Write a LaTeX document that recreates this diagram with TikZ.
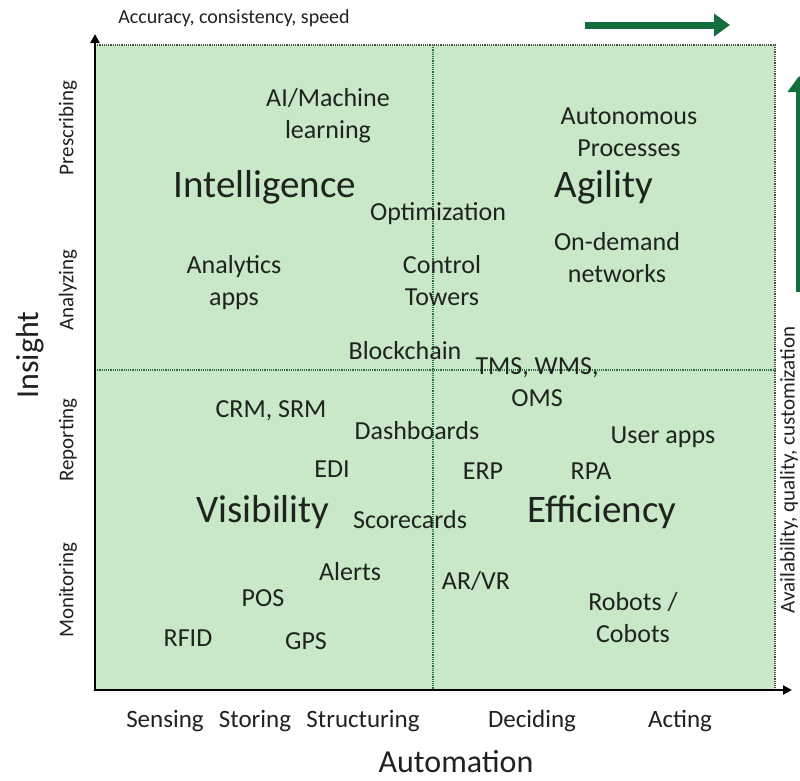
\documentclass[tikz,border=0pt]{standalone}
\usepackage{fontspec}
\setmainfont{Carlito}
\usetikzlibrary{arrows.meta}
\definecolor{boxgreen}{RGB}{200,232,200}
\definecolor{arrowgreen}{RGB}{18,110,60}
\definecolor{dotgreen}{RGB}{40,110,70}
\definecolor{txt}{RGB}{30,35,30}
\tikzset{
  item/.style={text=txt,font=\fontsize{26}{32}\selectfont,align=center,inner sep=0pt},
  title/.style={text=txt,font=\fontsize{39}{46}\selectfont,inner sep=0pt},
  axlab/.style={text=txt,font=\fontsize{25}{30}\selectfont,inner sep=0pt},
  sidelab/.style={text=txt,font=\fontsize{21}{25}\selectfont,inner sep=0pt,rotate=90},
  bigaxis/.style={text=txt,font=\fontsize{32}{38}\selectfont,inner sep=0pt},
  divider/.style={dotgreen,densely dotted,line width=1.2pt},
  axisline/.style={black,line width=2.6pt},
  greenarrow/.style={arrowgreen,line width=7pt,-{Triangle[length=16pt,width=22pt]}}
}
\begin{document}
\begin{tikzpicture}[x=1pt,y=-1pt]
\useasboundingbox (0,0) rectangle (800,780);
% box
\fill[boxgreen] (95,45) rectangle (775,690);
\coordinate (tl) at (95,45);
\coordinate (tr) at (775,45);
\coordinate (br) at (775,690);
\coordinate (mt) at (433,45);
\coordinate (mb) at (433,690);
\coordinate (ml) at (95,370);
\coordinate (mr) at (775,370);
\draw[divider,black!70] (tl) -- (tr) -- (br);
\draw[divider] (mt) -- (mb);
\draw[divider] (ml) -- (mr);
% axes
\coordinate (org) at (95,690);
\coordinate (ytop) at (95,34);
\coordinate (xend) at (792,690);
\draw[axisline,-{Triangle[length=9pt,width=9pt]}] ([yshift=1.3pt]org) -- (ytop);
\draw[axisline,-{Triangle[length=9pt,width=9pt]}] ([xshift=-1.3pt]org) -- (xend);
% green arrows
\coordinate (ga1) at (585,25);
\coordinate (ga2) at (730,25);
\draw[greenarrow] (ga1) -- (ga2);
\coordinate (gb1) at (799,292);
\coordinate (gb2) at (799,76);
\draw[greenarrow] (gb1) -- (gb2);
% top and side text
\node[text=txt,font=\fontsize{20}{24}\selectfont,inner sep=0pt] (acc) at (234,18) {Accuracy, consistency, speed};
\node[text=txt,font=\fontsize{21}{25}\selectfont,inner sep=0pt,rotate=90] (avail) at (789,470) {Availability, quality, customization};
% titles
\node[title] (intel) at (265,187) {Intelligence};
\node[title] (agil) at (604,187) {Agility};
\node[title] (vis) at (263,512) {Visibility};
\node[title] (eff) at (602,512) {Efficiency};
% items
\node[item] (ai) at (328,116) {AI/Machine\\learning};
\node[item] (auto) at (629,132) {Autonomous\\Processes};
\node[item] (opt) at (438,214) {Optimization};
\node[item] (ond) at (617,258) {On-demand\\networks};
\node[item] (ana) at (234,283) {Analytics\\apps};
\node[item] (ctl) at (442,281) {Control\\Towers};
\node[item] (blk) at (405,351) {Blockchain};
\node[item] (tms) at (537,382) {TMS, WMS,\\OMS};
\node[item] (crm) at (271,411) {CRM, SRM};
\node[item] (dash) at (417,431) {Dashboards};
\node[item] (user) at (663,437) {User apps};
\node[item] (edi) at (332,469) {EDI};
\node[item] (erp) at (483,471) {ERP};
\node[item] (rpa) at (591,471) {RPA};
\node[item] (score) at (410,520) {Scorecards};
\node[item] (alert) at (350,572) {Alerts};
\node[item] (arvr) at (476,581) {AR/VR};
\node[item] (pos) at (263,598) {POS};
\node[item] (rob) at (633,618) {Robots /\\Cobots};
\node[item] (rfid) at (188,638) {RFID};
\node[item] (gps) at (306,641) {GPS};
% x-axis labels
\node[axlab] (sens) at (165,721) {Sensing};
\node[axlab] (stor) at (255,721) {Storing};
\node[axlab] (struc) at (363,721) {Structuring};
\node[axlab] (dec) at (532,721) {Deciding};
\node[axlab] (act) at (680,721) {Acting};
\node[bigaxis] (autom) at (456,762) {Automation};
% y-axis labels
\node[sidelab] (pres) at (68,128) {Prescribing};
\node[sidelab] (anal) at (68,290) {Analyzing};
\node[sidelab] (rep) at (68,440) {Reporting};
\node[sidelab] (mon) at (68,590) {Monitoring};
\node[bigaxis,rotate=90] (ins) at (30,355) {Insight};
\end{tikzpicture}
\end{document}
